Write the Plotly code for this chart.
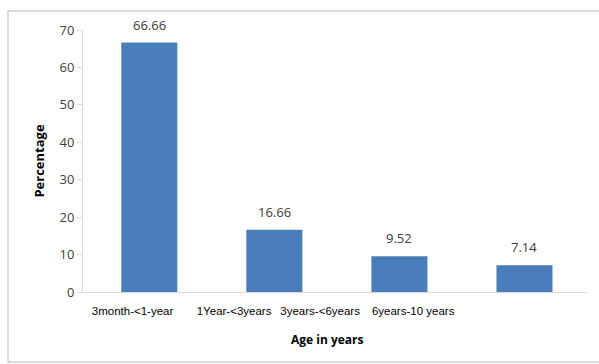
import plotly.graph_objects as go

categories = ["3month-<1-year", "1Year-<3years", "3years-<6years", "6years-10 years"]
values = [66.66, 16.66, 9.52, 7.14]
value_labels = ["66.66", "16.66", "9.52", "7.14"]
y_ticks = [0, 10, 20, 30, 40, 50, 60, 70]
# the category labels sit offset from the bars in the original
label_positions = [-0.134, 0.678, 1.366, 2.11]

bar_pos = list(range(len(values)))

fig = go.Figure()
fig.add_trace(go.Bar(
    x=bar_pos, y=values, width=0.448,
    marker=dict(color="#4A7EBB", line=dict(width=0)),
    cliponaxis=False,
))
for xp, v, lab in zip(bar_pos, values, value_labels):
    fig.add_annotation(
        x=xp, y=v, text=lab, showarrow=False, xanchor="center", yanchor="bottom",
        yshift=7, font=dict(family="Open Sans, Arial", size=13, color="#3a3a3a"),
    )

fig.update_layout(
    width=599, height=364,
    margin=dict(l=83, r=12, t=30, b=72),
    paper_bgcolor="white", plot_bgcolor="white",
    showlegend=False,
)
fig.update_xaxes(
    range=[-0.53, 3.5],
    tickmode="array", tickvals=label_positions, ticktext=categories,
    tickfont=dict(family="Liberation Sans", size=11.5, color="#000000"),
    showline=True, linecolor="#d9d9d9", linewidth=1,
    ticks="", showgrid=False, zeroline=False, tickangle=0,
    ticklabelstandoff=8,
)
fig.update_yaxes(
    range=[0, 70],
    tickmode="array", tickvals=y_ticks,
    tickfont=dict(family="Open Sans, Arial", size=13, color="#404040"),
    showline=True, linecolor="#d9d9d9", linewidth=1,
    ticks="outside", ticklen=5, tickcolor="#d9d9d9",
    showgrid=False, zeroline=False,
    title=dict(text="<b>Percentage</b>", font=dict(family="Open Sans, Arial", size=13, color="#000000"), standoff=11),
)
fig.add_annotation(
    text="<b>Age in years</b>", xref="paper", yref="paper",
    x=(327 - 83) / 504, y=(292 - 339) / 262, xanchor="center", yanchor="middle",
    showarrow=False, font=dict(family="Open Sans, Arial", size=12, color="#000000"),
)
fig.add_shape(
    type="rect", xref="paper", yref="paper",
    x0=(8 - 83) / 504, x1=1.06, y0=(292 - 362) / 262, y1=(292 - 11) / 262,
    line=dict(color="#d0d0d0", width=1.5), fillcolor="rgba(0,0,0,0)", layer="below",
)
fig.write_html("out.html")
